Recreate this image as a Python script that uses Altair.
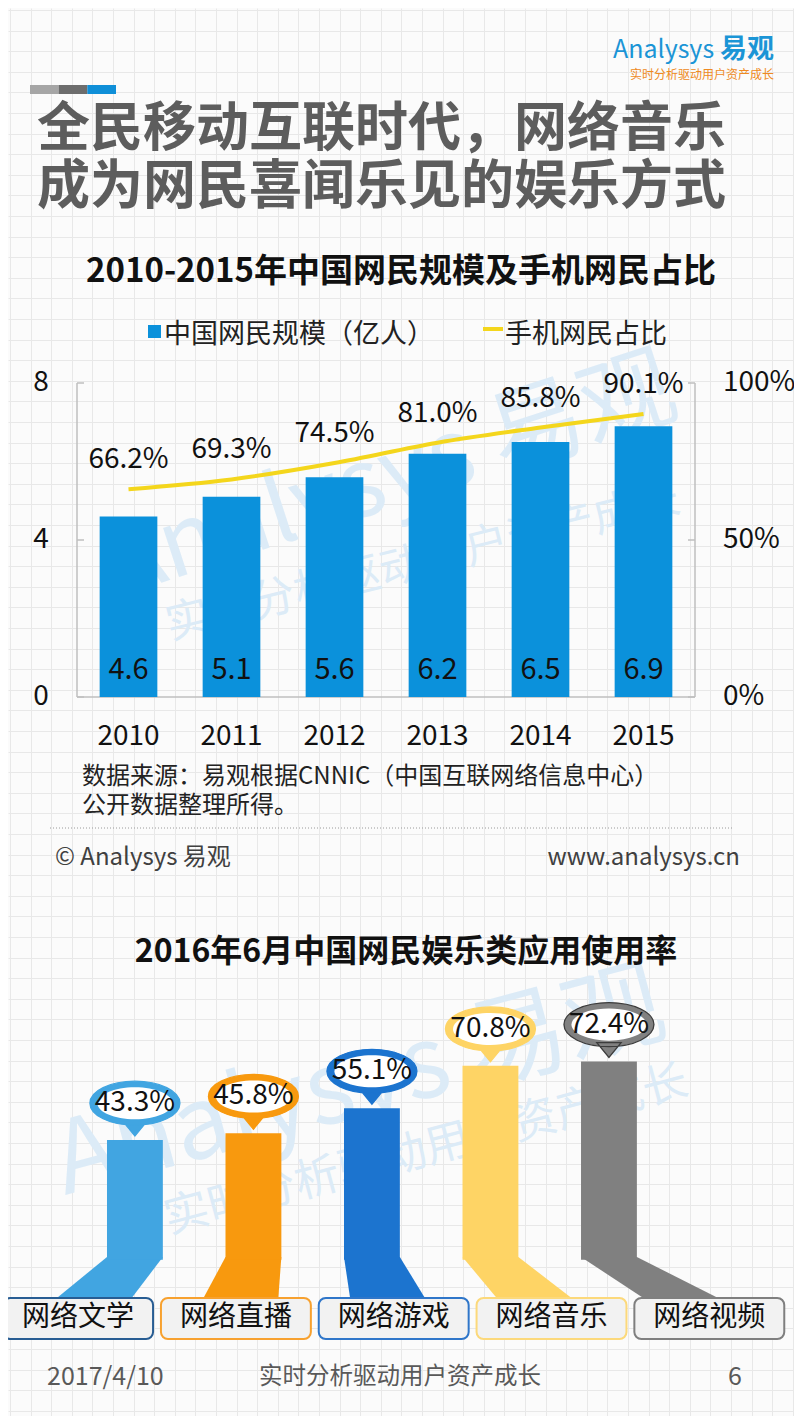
import altair as alt
import pandas as pd

# ---------------- data ----------------
years = ["2010", "2011", "2012", "2013", "2014", "2015"]
netizens = [4.6, 5.1, 5.6, 6.2, 6.5, 6.9]            # 中国网民规模（亿人）
mobile_share = [66.2, 69.3, 74.5, 81.0, 85.8, 90.1]  # 手机网民占比 %
left_ticks = [0, 4, 8]
right_ticks = [0, 50, 100]

apps = ["网络文学", "网络直播", "网络游戏", "网络音乐", "网络视频"]
usage = [43.3, 45.8, 55.1, 70.8, 72.4]               # 使用率 %

# ---------------- styles ----------------
FONT = "Noto Sans CJK SC"
BLUE = "#0b91db"
YELLOW = "#f4d61c"
app_fill = ["#41a5e1", "#f8990e", "#1c74cf", "#fed465", "#808080"]
app_border = ["#285d93", "#f7a12f", "#2f76c9", "#fcd97b", "#7f7f7f"]
bubble_edge = ["#41a5e1", "#f8990e", "#1c74cf", "#fed465", "#3c3c3c"]
header_colors = ["#a6a6a6", "#6d6d6d", "#0f8fd8"]

W, H = 786, 1408
M = 8


def px(v):
    return v - M


def label(text, x, y, size, color="#111111", weight="normal", align="left", angle=0,
          baseline="middle", **kw):
    mk = dict(fontSize=size, color=color, fontWeight=weight, align=align,
              baseline=baseline, font=FONT)
    if angle:
        mk["angle"] = angle
    mk.update(kw)
    return alt.Chart(alt.Data(values=[{"t": text}])).mark_text(**mk).encode(
        x=alt.value(px(x)), y=alt.value(px(y)), text="t:N")


def ell(cx, cy, rx, ry):
    k = 0.5523
    f = lambda v: f"{v:.3f}"
    return (f"M{f(cx-rx)},{f(cy)} C{f(cx-rx)},{f(cy-k*ry)} {f(cx-k*rx)},{f(cy-ry)} {f(cx)},{f(cy-ry)} "
            f"C{f(cx+k*rx)},{f(cy-ry)} {f(cx+rx)},{f(cy-k*ry)} {f(cx+rx)},{f(cy)} "
            f"C{f(cx+rx)},{f(cy+k*ry)} {f(cx+k*rx)},{f(cy+ry)} {f(cx)},{f(cy+ry)} "
            f"C{f(cx-k*rx)},{f(cy+ry)} {f(cx-rx)},{f(cy+k*ry)} {f(cx-rx)},{f(cy)} Z")


BALLOON = ell(0, -0.82, 1.0, 0.49) + " M-0.27,-0.42 L0.27,-0.42 L0,-0.09 Z"
INNER = ell(0, -0.82, 0.833, 0.356)

layers = []

# ---------------- background grid ----------------
gx = [round(2 + 20.6 * k, 1) for k in range(40)]
gy = [round(2 + 20.6 * k, 1) for k in range(70)]
grid_axis = dict(grid=True, labels=False, ticks=False, domain=False, title="",
                 gridColor="#e8e8e8", gridWidth=1)
layers.append(
    alt.Chart(pd.DataFrame({"g": [0]})).mark_point(opacity=0).encode(
        x=alt.X("g:Q", scale=alt.Scale(domain=[0, W], range=[0, W], nice=False, zero=False),
                axis=alt.Axis(values=gx, **grid_axis)),
        y=alt.Y("g:Q", scale=alt.Scale(domain=[0, H], range=[0, H], nice=False, zero=False),
                axis=alt.Axis(values=gy, **grid_axis)))
)

# ---------------- watermarks ----------------
WM = "#dcebf7"
layers += [
    label("Analysys 易观", 390, 478, 95, color=WM, align="center", angle=342),
    label("实时分析驱动用户资产成长", 423, 563, 44, color=WM, align="center", angle=346),
    label("Analysys 易观", 360, 1085, 100, color=WM, align="center", angle=345),
    label("实时分析驱动用户资产成长", 426, 1150, 45, color=WM, align="center", angle=345),
]

# ---------------- header ----------------
layers.append(
    alt.Chart(pd.DataFrame({"k": [0, 1, 2], "c": header_colors})).mark_rect().encode(
        x=alt.X("k:O", scale=alt.Scale(domain=[0, 1, 2], range=[px(30), px(116)],
                                       paddingInner=0, paddingOuter=0), axis=None),
        y=alt.value(px(85)), y2=alt.value(px(94)),
        color=alt.Color("c:N", scale=None))
)
layers += [
    label("Analysys", 613, 50, 25, color="#1b95d6"),
    label("易观", 774, 50, 27, color="#1b95d6", weight="bold", align="right"),
    label("实时分析驱动用户资产成长", 774, 75, 12, color="#ef8a22", align="right"),
    label("全民移动互联时代，网络音乐\n成为网民喜闻乐见的娱乐方式", 37, 104, 53,
          color="#5d5d5d", weight="bold", baseline="top", lineBreak="\n", lineHeight=58),
]

# ---------------- chart 1 ----------------
df1 = pd.DataFrame({"year": years, "n": netizens, "p": mobile_share})
x1 = alt.Scale(domain=years, range=[px(77), px(695)], paddingInner=0.44, paddingOuter=0.22)
yL = alt.Scale(domain=[0, 8], range=[px(697), px(383)], nice=False)
yR = alt.Scale(domain=[0, 100], range=[px(697), px(383)], nice=False)
X1 = alt.X("year:N", scale=x1, axis=None)

layers += [
    label("2010-2015年中国网民规模及手机网民占比", 401, 272, 33, weight="bold", align="center"),
    # legend
    alt.Chart(alt.Data(values=[{"a": 1}])).mark_rect(color=BLUE).encode(
        x=alt.value(px(148)), x2=alt.value(px(161)), y=alt.value(px(325)), y2=alt.value(px(338))),
    label("中国网民规模（亿人）", 164, 335, 27, color="#222222"),
    alt.Chart(alt.Data(values=[{"a": 1}])).mark_rule(color=YELLOW, strokeWidth=4).encode(
        x=alt.value(px(483)), x2=alt.value(px(503)), y=alt.value(px(329))),
    label("手机网民占比", 505, 335, 27, color="#222222"),
]

axis_df = pd.DataFrame({"lo": [min(left_ticks)], "hi": [max(left_ticks)]})
AX = "#bfbfbf"
layers += [
    alt.Chart(axis_df).mark_rule(color=AX, strokeWidth=1.5).encode(
        x=alt.value(px(77)), y=alt.Y("lo:Q", scale=yL, axis=None), y2="hi:Q"),
    alt.Chart(axis_df).mark_rule(color=AX, strokeWidth=1.5).encode(
        x=alt.value(px(695)), y=alt.Y("lo:Q", scale=yL, axis=None), y2="hi:Q"),
    alt.Chart(axis_df).mark_rule(color=AX, strokeWidth=1.5).encode(
        x=alt.value(px(77)), x2=alt.value(px(695)), y=alt.Y("lo:Q", scale=yL, axis=None)),
    alt.Chart(pd.DataFrame({"t": left_ticks})).mark_rule(color=AX, strokeWidth=1.5).encode(
        x=alt.value(px(77)), x2=alt.value(px(84)), y=alt.Y("t:Q", scale=yL, axis=None)),
    alt.Chart(pd.DataFrame({"t": right_ticks})).mark_rule(color=AX, strokeWidth=1.5).encode(
        x=alt.value(px(688)), x2=alt.value(px(695)), y=alt.Y("t:Q", scale=yR, axis=None)),
    alt.Chart(pd.DataFrame({"t": left_ticks})).mark_text(
        fontSize=28, align="center", baseline="middle", color="#111111", font=FONT).encode(
        x=alt.value(px(41)), y=alt.Y("t:Q", scale=yL, axis=None), text="t:Q"),
    alt.Chart(pd.DataFrame({"t": right_ticks})).transform_calculate(
        lbl="datum.t + '%'").mark_text(
        fontSize=28, align="left", baseline="middle", color="#111111", font=FONT).encode(
        x=alt.value(px(723)), y=alt.Y("t:Q", scale=yR, axis=None), text="lbl:N"),
    alt.Chart(df1).mark_text(fontSize=28, align="center", baseline="middle",
                             color="#111111", font=FONT).encode(
        x=X1, y=alt.value(px(737)), text="year:N"),
]

layers += [
    alt.Chart(df1).mark_bar(color=BLUE, opacity=1).encode(
        x=X1, y=alt.Y("n:Q", scale=yL, axis=None)),
    alt.Chart(df1).transform_calculate(zero="0").mark_text(
        fontSize=29, align="center", baseline="middle", dy=-27, color="#111111", font=FONT).encode(
        x=X1, y=alt.Y("zero:Q", scale=yL, axis=None), text=alt.Text("n:Q", format=".1f")),
    alt.Chart(df1).mark_line(color=YELLOW, strokeWidth=4, interpolate="monotone").encode(
        x=X1, y=alt.Y("p:Q", scale=yR, axis=None)),
    alt.Chart(df1).transform_calculate(lbl="format(datum.p, '.1f') + '%'").mark_text(
        fontSize=28, align="center", baseline="middle", dy=-29, color="#111111", font=FONT).encode(
        x=X1, y=alt.Y("p:Q", scale=yR, axis=None), text="lbl:N"),
]

# source / copyright
layers += [
    label("数据来源：易观根据CNNIC（中国互联网络信息中心）\n公开数据整理所得。", 82, 765, 24,
          color="#222222", baseline="top", lineBreak="\n", lineHeight=29),
    alt.Chart(alt.Data(values=[{"a": 1}])).mark_rule(color="#9a9a9a", strokeDash=[1, 2]).encode(
        x=alt.value(px(50)), x2=alt.value(px(733)), y=alt.value(px(828))),
    label("© Analysys 易观", 55, 858, 24, color="#404040"),
    label("www.analysys.cn", 740, 858, 24, color="#404040", align="right"),
]

# ---------------- chart 2 ----------------
layers.append(label("2016年6月中国网民娱乐类应用使用率", 406, 952, 32, weight="bold", align="center"))

df2 = pd.DataFrame({"app": apps, "v": usage, "i": list(range(len(apps))),
                    "fill": app_fill, "border": app_border, "edge": bubble_edge})
calc = dict(
    box_l="datum.i + 0.02", box_r="datum.i + 0.97", box_c="datum.i + 0.495",
    bar_c="0.855 + 0.751 * datum.i",
    bar_l="0.855 + 0.751 * datum.i - 0.177", bar_r="0.855 + 0.751 * datum.i + 0.177",
    base="-1",
    lbl="format(datum.v, '.1f') + '%'",
)
xs = alt.Scale(domain=[0, 5], range=[px(0), px(789)], nice=False, zero=False)
ys = alt.Scale(domain=[0, 80], range=[px(1257), px(1041)], nice=False)
yc = alt.Scale(domain=[0, 1], range=[px(1257), px(1300)], nice=False, zero=False)

conn_rows = []
for i, a in enumerate(apps):
    bar_c = 0.855 + 0.751 * i
    box_c = i + 0.495
    bot_c = box_c + 0.25 * (bar_c - box_c)
    conn_rows.append({"app": a, "lvl": 0, "l": bar_c - 0.177, "r": bar_c + 0.177, "fill": app_fill[i]})
    conn_rows.append({"app": a, "lvl": 1, "l": bot_c - 0.24, "r": bot_c + 0.24, "fill": app_fill[i]})
conn = pd.DataFrame(conn_rows)

base2 = alt.Chart(df2).transform_calculate(**calc)
layers += [
    alt.Chart(conn).mark_area(orient="horizontal", opacity=1).encode(
        y=alt.Y("lvl:Q", scale=yc, axis=None),
        x=alt.X("l:Q", scale=xs, axis=None), x2="r:Q",
        detail="app:N", color=alt.Color("fill:N", scale=None)),
    base2.mark_rect().encode(
        x=alt.X("bar_l:Q", scale=xs, axis=None), x2="bar_r:Q",
        y=alt.Y("v:Q", scale=ys, axis=None), y2="base:Q",
        color=alt.Color("fill:N", scale=None)),
    base2.mark_point(shape=BALLOON, size=8100, filled=True, opacity=1, strokeWidth=1.3).encode(
        x=alt.X("bar_c:Q", scale=xs, axis=None), y=alt.Y("v:Q", scale=ys, axis=None),
        color=alt.Color("fill:N", scale=None), stroke=alt.Stroke("edge:N", scale=None)),
    base2.mark_point(shape=INNER, size=8100, filled=True, opacity=1, color="white").encode(
        x=alt.X("bar_c:Q", scale=xs, axis=None), y=alt.Y("v:Q", scale=ys, axis=None)),
    base2.mark_text(fontSize=28, align="center", baseline="middle", dy=-37,
                    color="#111111", font=FONT).encode(
        x=alt.X("bar_c:Q", scale=xs, axis=None), y=alt.Y("v:Q", scale=ys, axis=None), text="lbl:N"),
    base2.mark_rect(cornerRadius=7, fill="#f2f2f2", strokeWidth=2).encode(
        x=alt.X("box_l:Q", scale=xs, axis=None), x2="box_r:Q",
        y=alt.value(px(1298)), y2=alt.value(px(1339)),
        stroke=alt.Stroke("border:N", scale=None)),
    base2.mark_text(fontSize=28, align="center", baseline="middle", color="#111111", font=FONT).encode(
        x=alt.X("box_c:Q", scale=xs, axis=None), y=alt.value(px(1318)), text="app:N"),
]

# ---------------- footer ----------------
layers += [
    label("2017/4/10", 47, 1377, 25, color="#595959"),
    label("实时分析驱动用户资产成长", 400, 1377, 23.5, color="#595959", align="center"),
    label("6", 735, 1377, 25, color="#595959", align="center"),
]

chart = alt.layer(*layers).resolve_scale(
    x="independent", y="independent"
).properties(
    width=W, height=H, background="#fbfbfb", padding=0,
    autosize=alt.AutoSizeParams(type="none"),
).configure_view(strokeWidth=0).configure_text(font=FONT)

chart.save("out.html", embed_options={"renderer": "svg", "actions": False})
